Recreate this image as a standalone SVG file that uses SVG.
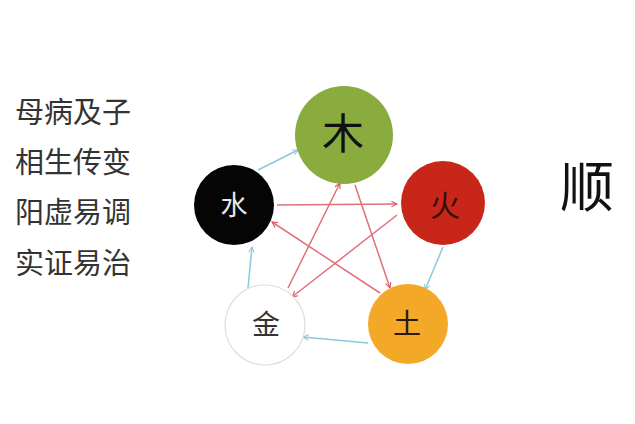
<svg xmlns="http://www.w3.org/2000/svg" width="635" height="424" viewBox="0 0 635 424">
<defs>
<style>
.lbl{font-family:"Noto Sans CJK SC","Noto Sans CJK TC",sans-serif;}
.side{font-family:"Noto Sans CJK SC",sans-serif;font-size:29px;fill:#333;}
.blue{stroke:#8cc9d8;stroke-width:1.5;fill:none;marker-end:url(#ab);}
.red{stroke:#e0707a;stroke-width:1.5;fill:none;marker-end:url(#ar);}
</style>
<marker id="ab" viewBox="0 0 10 10" refX="9" refY="5" markerWidth="7" markerHeight="7" orient="auto" markerUnits="userSpaceOnUse"><path d="M1,1 L9,5 L1,9" fill="none" stroke="#8cc9d8" stroke-width="1.5"/></marker>
<marker id="ar" viewBox="0 0 10 10" refX="9" refY="5" markerWidth="7" markerHeight="7" orient="auto" markerUnits="userSpaceOnUse"><path d="M1,1 L9,5 L1,9" fill="none" stroke="#d9505c" stroke-width="1.5"/></marker>
</defs>
<rect width="635" height="424" fill="#ffffff"/>
<g id="side-text">
<text class="side" x="15" y="123">母病及子</text>
<text class="side" x="15" y="173">相生传变</text>
<text class="side" x="15" y="223">阳虚易调</text>
<text class="side" x="15" y="274">实证易治</text>
</g>
<text id="shun" class="lbl" x="587" y="207" font-size="54" text-anchor="middle" fill="#111">顺</text>
<g id="connectors">
<line class="blue" x1="258" y1="170" x2="298" y2="150"/>
<line class="blue" x1="443" y1="247" x2="425" y2="290"/>
<line class="blue" x1="368" y1="343" x2="303" y2="337"/>
<line class="blue" x1="248" y1="288" x2="252" y2="247"/>
<line class="red" x1="277" y1="205" x2="397" y2="204"/>
<line class="red" x1="397" y1="215" x2="292" y2="297"/>
<line class="red" x1="288" y1="288" x2="340" y2="183"/>
<line class="red" x1="355" y1="185" x2="390" y2="288"/>
<line class="red" x1="380" y1="293" x2="272" y2="222"/>
</g>
<g id="wood">
<circle cx="344" cy="135" r="49" fill="#8aab3e"/>
<text class="lbl" x="343" y="149" font-size="42" text-anchor="middle" fill="#111">木</text>
</g>
<g id="water">
<circle cx="234" cy="205" r="40" fill="#050505"/>
<text class="lbl" x="234" y="215" font-size="27" text-anchor="middle" fill="#e8e8e8">水</text>
</g>
<g id="fire">
<circle cx="443" cy="203" r="42" fill="#c9261a"/>
<text class="lbl" x="445" y="216" font-size="30" text-anchor="middle" fill="#3a0c08">火</text>
</g>
<g id="earth">
<circle cx="408" cy="324" r="40" fill="#f4a828"/>
<text class="lbl" x="407" y="334" font-size="28" text-anchor="middle" fill="#2a1a05">土</text>
</g>
<g id="metal">
<circle cx="265" cy="325" r="40" fill="#ffffff" stroke="#dedede" stroke-width="1.2"/>
<text class="lbl" x="266" y="335" font-size="28" text-anchor="middle" fill="#333">金</text>
</g>
</svg>
